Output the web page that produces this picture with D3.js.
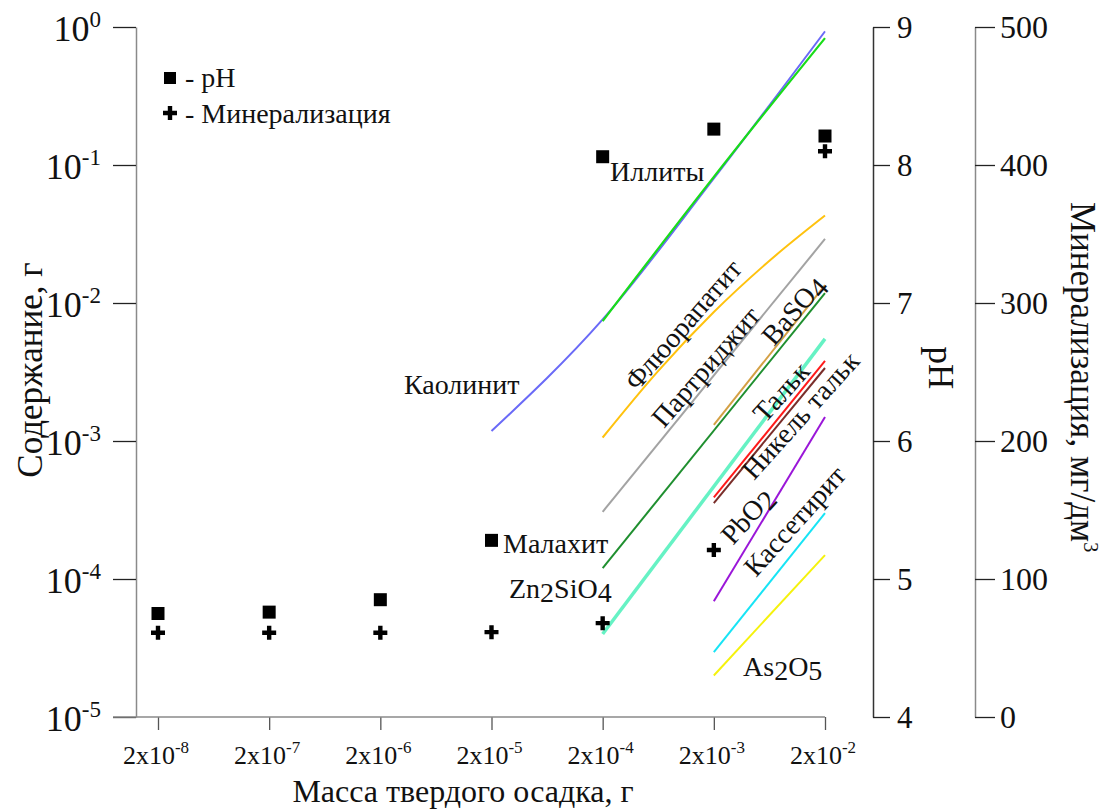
<!DOCTYPE html>
<html>
<head>
<meta charset="utf-8">
<script src="https://cdn.jsdelivr.net/npm/d3@7"></script>
<style>
  body { margin: 0; background: #fff; }
  text { font-family: "Liberation Serif", "Times New Roman", serif; fill: #111; }
</style>
</head>
<body>
<div id="container"></div>
<script>
// x categories (mass of solid residue, g)
var masses = [2e-8, 2e-7, 2e-6, 2e-5, 2e-4, 2e-3, 2e-2];
var massExp = ["-8", "-7", "-6", "-5", "-4", "-3", "-2"];
// left axis decades
var contentTicks = [1, 1e-1, 1e-2, 1e-3, 1e-4, 1e-5];
var contentExp = ["0", "-1", "-2", "-3", "-4", "-5"];
var phTicks = [4, 5, 6, 7, 8, 9];
var minTicks = [0, 100, 200, 300, 400, 500];

// point series
var phValues = [4.75, 4.76, 4.85, 5.28, 8.06, 8.26, 8.21];
var mineralValues = [61, 61, 61, 61.5, 68, 121, 410];

// mineral lines [mass, content]
var kaolinite = [[2e-5, 1.18e-3], [2e-4, 7.6e-3], [2e-3, 0.08], [2e-2, 0.93]];
var illite = [[2e-4, 7.4e-3], [2e-3, 0.082], [2e-2, 0.83]];
var fluorapatite = [[2e-4, 1.06e-3], [6.3e-4, 3.21e-3], [2e-3, 8.6e-3], [6e-3, 0.0195], [2e-2, 0.043]];
var partridgeite = [[2e-4, 3.07e-4], [2e-2, 0.0291]];
var baso4 = [[2e-3, 1.31e-3], [2e-2, 0.0135]];
var malachite = [[2e-4, 1.2e-4], [2e-2, 0.0118]];
var talc = [[2e-4, 3.99e-5], [2e-2, 5.5e-3]];
var nickelTalc = [[2e-3, 3.9e-4], [2e-2, 3.8e-3]];
var pbo2 = [[2e-3, 3.55e-4], [2e-2, 3.38e-3]];
var zn2sio4 = [[2e-3, 6.9e-5], [2e-2, 1.49e-3]];
var cassiterite = [[2e-3, 2.95e-5], [2e-2, 3.0e-4]];
var as2o5 = [[2e-3, 2.0e-5], [2e-2, 1.49e-4]];

var series = [
  { data: kaolinite, color: "#6a6af7", w: 2 },
  { data: illite, color: "#19dd19", w: 2.2 },
  { data: fluorapatite, color: "#ffc20e", w: 2 },
  { data: partridgeite, color: "#a3a3a3", w: 2 },
  { data: malachite, color: "#1f8f2f", w: 2 },
  { data: baso4, color: "#d4a044", w: 2 },
  { data: talc, color: "#66f2c4", w: 3.5 },
  { data: pbo2, color: "#7a2e2a", w: 2 },
  { data: nickelTalc, color: "#ff1a1a", w: 2 },
  { data: zn2sio4, color: "#9a16d8", w: 2 },
  { data: cassiterite, color: "#17e4f5", w: 2 },
  { data: as2o5, color: "#f5f20c", w: 2 }
];

var width = 1106, height = 809;

var svg = d3.select("#container").append("svg")
    .attr("width", width)
    .attr("height", height);

var x = d3.scaleLog().domain([2e-8, 2e-2]).range([158, 825]);
var y = d3.scaleLog().domain([1e-5, 1]).range([717, 27]);
var yPh = d3.scaleLinear().domain([4, 9]).range([717, 27]);
var yMin = d3.scaleLinear().domain([0, 500]).range([717, 27]);

// left axis
var leftAxis = svg.append("g")
    .attr("transform", "translate(136,0)")
    .call(d3.axisLeft(y).tickValues(contentTicks).tickSize(23).tickSizeOuter(0).tickFormat(""));
leftAxis.select(".domain").attr("stroke", "#8a8a8a").attr("stroke-width", 1.5);
leftAxis.selectAll(".tick line").attr("stroke", "#222").attr("stroke-width", 1.3);

var ylab = svg.append("g").selectAll("text")
    .data(contentTicks)
    .enter().append("text")
    .attr("x", 101)
    .attr("y", function(d) { return y(d) + 14; })
    .attr("text-anchor", "end")
    .style("font-size", "36px");
ylab.append("tspan").text("10");
ylab.append("tspan")
    .attr("dy", -14)
    .style("font-size", "23px")
    .text(function(d, i) { return contentExp[i]; });

// bottom axis
var bottomAxis = svg.append("g")
    .attr("transform", "translate(0,717)")
    .call(d3.axisBottom(x).tickValues(masses).tickSize(13).tickSizeOuter(0).tickFormat(""));
bottomAxis.select(".domain").remove();
bottomAxis.selectAll(".tick line").attr("stroke", "#555").attr("stroke-width", 1.3);
svg.append("line")
    .attr("x1", 113).attr("x2", x(2e-2))
    .attr("y1", 717).attr("y2", 717)
    .attr("stroke", "#8a8a8a").attr("stroke-width", 1.5);

var xlab = svg.append("g").selectAll("text")
    .data(masses)
    .enter().append("text")
    .attr("x", function(d) { return x(d) - 2; })
    .attr("y", 764)
    .attr("text-anchor", "middle")
    .style("font-size", "26px");
xlab.append("tspan").text("2x10");
xlab.append("tspan")
    .attr("dy", -11)
    .style("font-size", "17px")
    .text(function(d, i) { return massExp[i]; });

svg.append("text")
    .attr("x", 463).attr("y", 802)
    .attr("text-anchor", "middle")
    .style("font-size", "32px")
    .text("Масса твердого осадка, г");

svg.append("text")
    .attr("transform", "translate(42,370) rotate(-90)")
    .attr("text-anchor", "middle")
    .style("font-size", "35px")
    .text("Содержание, г");

// pH axis
var phAxis = svg.append("g")
    .attr("transform", "translate(873,0)")
    .call(d3.axisRight(yPh).tickValues(phTicks).tickSize(17).tickSizeOuter(0).tickFormat(""));
phAxis.select(".domain").attr("stroke", "#333").attr("stroke-width", 1.5);
phAxis.selectAll(".tick line").attr("stroke", "#222").attr("stroke-width", 1.3);
svg.append("g").selectAll("text")
    .data(phTicks)
    .enter().append("text")
    .attr("x", 897)
    .attr("y", function(d) { return yPh(d) + 11; })
    .style("font-size", "31px")
    .text(function(d) { return d; });

svg.append("text")
    .attr("transform", "translate(929,368) rotate(90)")
    .attr("text-anchor", "middle")
    .style("font-size", "35px")
    .text("pH");

// mineralization axis
var minAxis = svg.append("g")
    .attr("transform", "translate(975,0)")
    .call(d3.axisRight(yMin).tickValues(minTicks).tickSize(20).tickSizeOuter(0).tickFormat(""));
minAxis.select(".domain").attr("stroke", "#8a8a8a").attr("stroke-width", 1.5);
minAxis.selectAll(".tick line").attr("stroke", "#222").attr("stroke-width", 1.3);
svg.append("g").selectAll("text")
    .data(minTicks)
    .enter().append("text")
    .attr("x", 1000)
    .attr("y", function(d) { return yMin(d) + 11; })
    .style("font-size", "32px")
    .text(function(d) { return d; });

var mtitle = svg.append("text")
    .attr("transform", "translate(1071,377) rotate(90)")
    .attr("text-anchor", "middle")
    .style("font-size", "35px");
mtitle.append("tspan").text("Минерализация, мг/дм");
mtitle.append("tspan").attr("dy", -13).style("font-size", "20px").text("3");

// mineral lines
var line = d3.line()
    .x(function(d) { return x(d[0]); })
    .y(function(d) { return y(d[1]); })
    .curve(d3.curveMonotoneX);

svg.append("g").selectAll("path")
    .data(series)
    .enter().append("path")
    .attr("d", function(d) { return line(d.data); })
    .attr("fill", "none")
    .attr("stroke", function(d) { return d.color; })
    .attr("stroke-width", function(d) { return d.w; });

// markers
var sq = 13;
svg.append("g").selectAll("rect")
    .data(phValues)
    .enter().append("rect")
    .attr("x", function(d, i) { return x(masses[i]) - sq / 2; })
    .attr("y", function(d) { return yPh(d) - sq / 2; })
    .attr("width", sq).attr("height", sq)
    .attr("fill", "#000");

var plus = "M-7,-2.2H-2.2V-7H2.2V-2.2H7V2.2H2.2V7H-2.2V2.2H-7Z";
svg.append("g").selectAll("path")
    .data(mineralValues)
    .enter().append("path")
    .attr("transform", function(d, i) { return "translate(" + x(masses[i]) + "," + yMin(d) + ")"; })
    .attr("d", plus)
    .attr("fill", "#000");

// legend
svg.append("rect").attr("x", 164).attr("y", 72).attr("width", 12).attr("height", 12).attr("fill", "#000");
svg.append("text").attr("x", 185).attr("y", 87).style("font-size", "28px").text("- pH");
svg.append("path").attr("transform", "translate(170,113)").attr("d", plus).attr("fill", "#000");
svg.append("text").attr("x", 185).attr("y", 123).style("font-size", "28px").text("- Минерализация");

// labels
function label(txt, px, py, ang) {
  return svg.append("text")
    .attr("transform", "translate(" + px + "," + py + ") rotate(" + ang + ")")
    .style("font-size", "28px")
    .text(txt);
}
label("Каолинит", 404, 394, 0);
label("Иллиты", 610, 181, 0);
label("Малахит", 503, 553, 0);
label("Флюорапатит", 637, 392, -49);
label("Партриджит", 664, 429, -49);
label("Тальк", 765, 424, -48);
label("Никель тальк", 754, 481, -48);
label("Кассетирит", 756, 578, -48);

function subLabel(a, s1, b, s2, px, py, ang) {
  var t = svg.append("text")
    .attr("transform", "translate(" + px + "," + py + ") rotate(" + ang + ")")
    .style("font-size", "28px");
  t.append("tspan").text(a);
  t.append("tspan").attr("dy", 4).text(s1);
  t.append("tspan").attr("dy", -4).text(b);
  if (s2) t.append("tspan").attr("dy", 4).text(s2);
  return t;
}
subLabel("Zn", "2", "SiO", "4", 509, 598, 0);
subLabel("As", "2", "O", "5", 743, 676, 0);
subLabel("BaSO", "4", "", "", 774, 347, -49);
subLabel("PbO", "2", "", "", 733, 546, -48);
</script>
</body>
</html>
